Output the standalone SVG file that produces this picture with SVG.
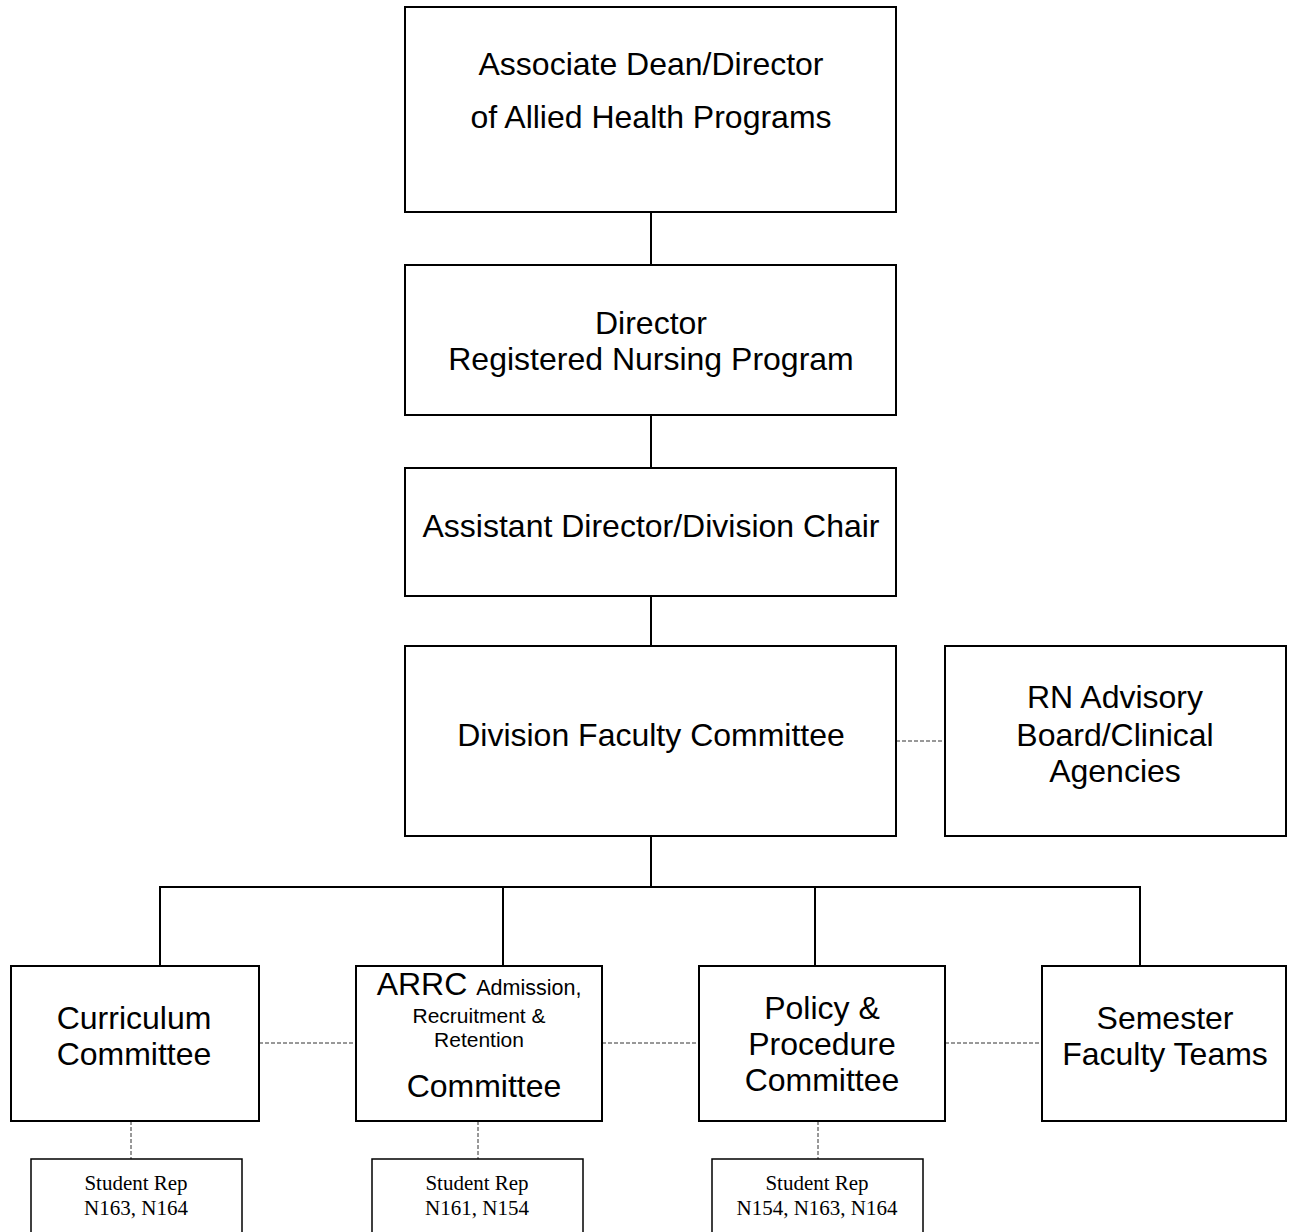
<svg xmlns="http://www.w3.org/2000/svg" width="1289" height="1232" viewBox="0 0 1289 1232">
<style>
.box{fill:#fff;stroke:#000;stroke-width:2}
.sbox{fill:#fff;stroke:#000;stroke-width:1.5}
.t{font-family:"Liberation Sans",Arial,sans-serif;font-size:32px;fill:#000;text-anchor:middle}
.s{font-family:"Liberation Sans",Arial,sans-serif;font-size:21px;fill:#000;text-anchor:middle}
.r{font-family:"Liberation Serif","Times New Roman",serif;font-size:21px;fill:#000;text-anchor:middle}
.ln{stroke:#000;stroke-width:2;fill:none}
.dl{stroke:#333;stroke-width:1;stroke-dasharray:4,2;fill:none}
</style>
<rect width="1289" height="1232" fill="#fff"/>
<g id="connectors">
<line class="ln" x1="651" y1="212" x2="651" y2="265"/>
<line class="ln" x1="651" y1="415" x2="651" y2="468"/>
<line class="ln" x1="651" y1="596" x2="651" y2="646"/>
<line class="ln" x1="651" y1="836" x2="651" y2="887"/>
<line class="ln" x1="159" y1="887" x2="1141" y2="887"/>
<line class="ln" x1="160" y1="887" x2="160" y2="966"/>
<line class="ln" x1="503" y1="887" x2="503" y2="966"/>
<line class="ln" x1="815" y1="887" x2="815" y2="966"/>
<line class="ln" x1="1140" y1="887" x2="1140" y2="966"/>
<line class="dl" x1="896" y1="741" x2="945" y2="741"/>
<line class="dl" x1="259" y1="1043" x2="356" y2="1043"/>
<line class="dl" x1="602" y1="1043" x2="699" y2="1043"/>
<line class="dl" x1="945" y1="1043" x2="1042" y2="1043"/>
<line class="dl" x1="131" y1="1121" x2="131" y2="1159"/>
<line class="dl" x1="478" y1="1121" x2="478" y2="1159"/>
<line class="dl" x1="818" y1="1121" x2="818" y2="1159"/>
</g>
<g id="associate-dean">
<rect class="box" x="405" y="7" width="491" height="205"/>
<text class="t" x="651" y="75">Associate Dean/Director</text>
<text class="t" x="651" y="128">of Allied Health Programs</text>
</g>
<g id="director">
<rect class="box" x="405" y="265" width="491" height="150"/>
<text class="t" x="651" y="334">Director</text>
<text class="t" x="651" y="370">Registered Nursing Program</text>
</g>
<g id="assistant-director">
<rect class="box" x="405" y="468" width="491" height="128"/>
<text class="t" x="651" y="537">Assistant Director/Division Chair</text>
</g>
<g id="division-faculty">
<rect class="box" x="405" y="646" width="491" height="190"/>
<text class="t" x="651" y="746">Division Faculty Committee</text>
</g>
<g id="rn-advisory">
<rect class="box" x="945" y="646" width="341" height="190"/>
<text class="t" x="1115" y="708">RN Advisory</text>
<text class="t" x="1115" y="746">Board/Clinical</text>
<text class="t" x="1115" y="782">Agencies</text>
</g>
<g id="curriculum">
<rect class="box" x="11" y="966" width="248" height="155"/>
<text class="t" x="134" y="1029">Curriculum</text>
<text class="t" x="134" y="1065">Committee</text>
</g>
<g id="arrc">
<rect class="box" x="356" y="966" width="246" height="155"/>
<text class="t" x="479" y="995">ARRC <tspan style="font-size:21.5px">Admission,</tspan></text>
<text class="s" x="479" y="1023">Recruitment &amp;</text>
<text class="s" x="479" y="1047">Retention</text>
<text class="t" x="484" y="1097">Committee</text>
</g>
<g id="policy">
<rect class="box" x="699" y="966" width="246" height="155"/>
<text class="t" x="822" y="1019">Policy &amp;</text>
<text class="t" x="822" y="1055">Procedure</text>
<text class="t" x="822" y="1091">Committee</text>
</g>
<g id="semester">
<rect class="box" x="1042" y="966" width="244" height="155"/>
<text class="t" x="1165" y="1029">Semester</text>
<text class="t" x="1165" y="1065">Faculty Teams</text>
</g>
<g id="student-rep-1">
<rect class="sbox" x="31" y="1159" width="211" height="74"/>
<text class="r" x="136" y="1190">Student Rep</text>
<text class="r" x="136" y="1215">N163, N164</text>
</g>
<g id="student-rep-2">
<rect class="sbox" x="372" y="1159" width="211" height="74"/>
<text class="r" x="477" y="1190">Student Rep</text>
<text class="r" x="477" y="1215">N161, N154</text>
</g>
<g id="student-rep-3">
<rect class="sbox" x="712" y="1159" width="211" height="74"/>
<text class="r" x="817" y="1190">Student Rep</text>
<text class="r" x="817" y="1215">N154, N163, N164</text>
</g>
</svg>
